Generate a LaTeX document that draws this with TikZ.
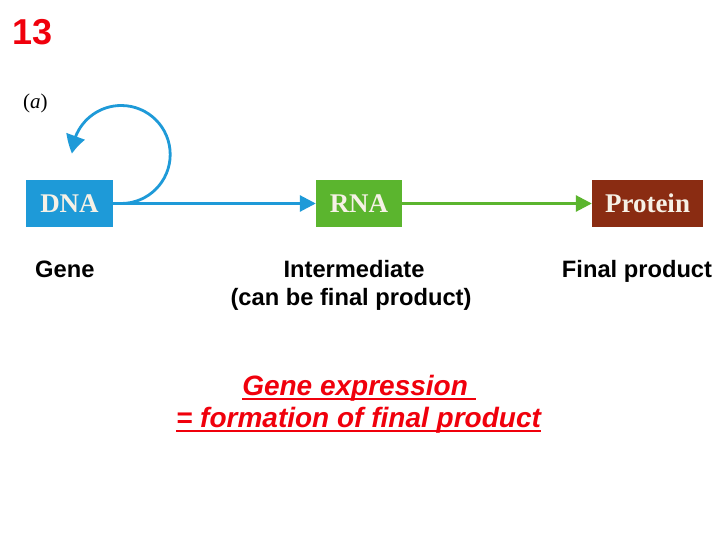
\documentclass[tikz,border=0pt]{standalone}
\usepackage{fontspec}
\setmainfont{Liberation Sans}
\newfontfamily\serifbox{Liberation Serif}
\usetikzlibrary{arrows.meta,bending}
\definecolor{dnablue}{HTML}{1E9AD8}
\definecolor{rnagreen}{HTML}{5BB52E}
\definecolor{protbrown}{HTML}{8A2C12}
\definecolor{boxtext}{HTML}{F6F1E6}
\definecolor{slidered}{HTML}{F0000C}
\newcommand\myul[1]{\setbox0\hbox{#1}\rlap{\rule[-5pt]{\wd0}{2.4pt}}\box0}
\tikzset{
  molbox/.style={minimum height=47pt, inner sep=0pt, text=boxtext,
    font=\serifbox\bfseries\fontsize{27}{30}\selectfont},
  lbl/.style={inner sep=0pt, font=\bfseries\fontsize{23.7}{28}\selectfont},
  flow/.style={line width=2.8pt, -{Triangle[length=16pt,width=16pt]}},
  note/.style={inner sep=0pt, text=slidered,
    font=\bfseries\itshape\fontsize{28}{32}\selectfont}
}
\begin{document}
\begin{tikzpicture}[x=1pt,y=1pt]
\useasboundingbox[fill=white] (0,0) rectangle (720,-540);
\node[inner sep=0pt, anchor=base west, text=slidered, font=\bfseries\fontsize{36}{40}\selectfont] (num) at (12,-45) {13};
\node[inner sep=0pt, anchor=base west, font=\serifbox\fontsize{21}{24}\selectfont] (tag) at (23,-109) {(\textit{a})};
\node[molbox, fill=dnablue, minimum width=87pt] (DNA) at (69.5,-203.5) {DNA};
\node[molbox, fill=rnagreen, minimum width=86pt] (RNA) at (359,-203.5) {RNA};
\node[molbox, fill=protbrown, minimum width=111pt] (Prot) at (647.5,-203.5) {Protein};
\draw[flow, draw=dnablue] (DNA.east) -- (RNA.west);
\draw[flow, draw=rnagreen] (RNA.east) -- (Prot.west);
\coordinate (loopstart) at ([xshift=8pt]DNA.east);
\draw[line width=2.8pt, draw=dnablue, -{Triangle[length=18pt,width=19pt,bend]}]
  (DNA.east) -- (loopstart) arc[start angle=-90, end angle=179, radius=49];
\node[lbl, anchor=base west] (gene) at (35,-277) {Gene};
\node[lbl, anchor=base] (inter) at (354,-277) {Intermediate};
\node[lbl, anchor=base] (inter2) at (351,-305) {(can be final product)};
\node[lbl, anchor=base] (final) at (637,-277) {Final product};
\node[note, anchor=base] (ge1) at (359,-395) {\myul{Gene expression\ }};
\node[note, anchor=base] (ge2) at (358.5,-427) {\myul{= formation of final product}};
\end{tikzpicture}
\end{document}
